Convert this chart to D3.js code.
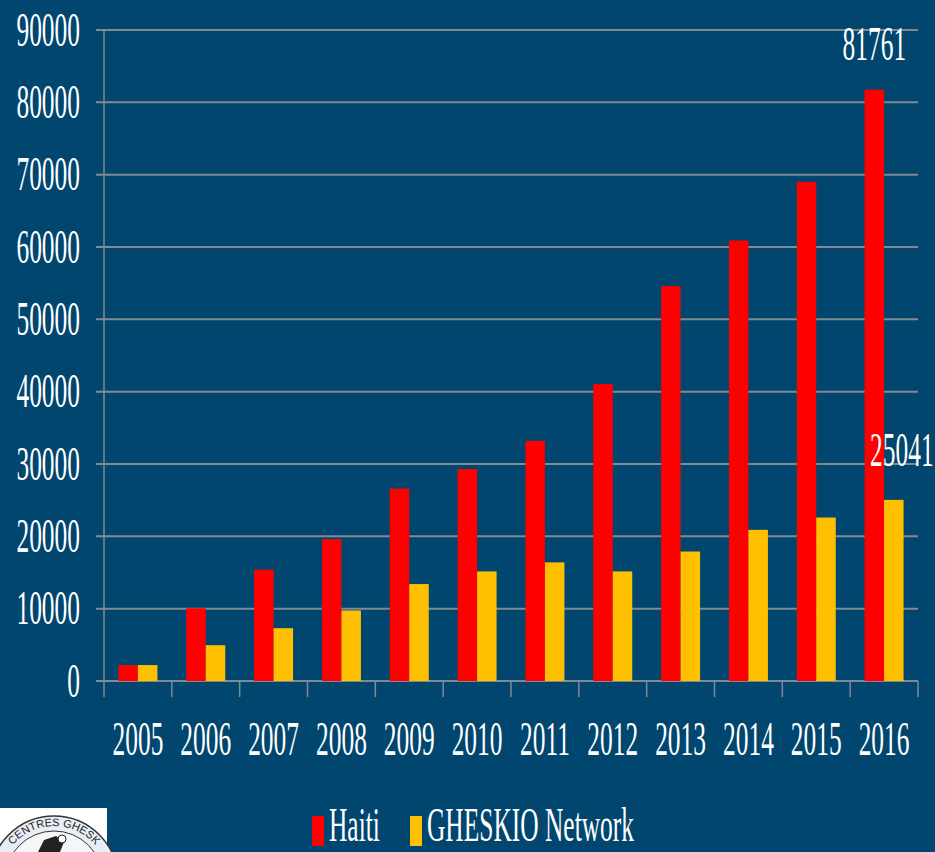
<!DOCTYPE html>
<html>
<head>
<meta charset="utf-8">
<script src="https://cdn.jsdelivr.net/npm/d3@7"></script>
<style>
  html, body { margin: 0; padding: 0; background: #00466f; }
  svg { display: block; }
  text { font-family: "Liberation Serif", "Times New Roman", serif; fill: #ffffff; }
</style>
</head>
<body>
<svg id="chart" width="935" height="852"></svg>
<script>
const years = ['2005', '2006', '2007', '2008', '2009', '2010', '2011', '2012', '2013', '2014', '2015', '2016'];
const haiti = [2200, 10050, 15400, 19600, 26600, 29300, 33200, 41050, 54600, 60900, 69000, 81761];
const gheskio = [2200, 4950, 7300, 9750, 13400, 15150, 16400, 15150, 17900, 20900, 22600, 25041];
const seriesNames = ['Haiti', 'GHESKIO Network'];
const seriesColors = ['#ff0000', '#ffc000'];
const yTicks = [0, 10000, 20000, 30000, 40000, 50000, 60000, 70000, 80000, 90000];

const margin = { top: 30, left: 104, right: 17, bottom: 171 };
const width = 935, height = 852;
const fontSize = 48, squeeze = 0.53; // tall narrow serif look

var svg = d3.select('#chart');

var x = d3.scaleBand()
	.domain(years)
	.range([margin.left, width - margin.right])
	.paddingInner(0).paddingOuter(0);

var xInner = d3.scaleBand()
	.domain(seriesNames)
	.range([0, x.bandwidth()])
	.paddingInner(0).paddingOuter(0.74);

var y = d3.scaleLinear()
	.domain([0, 90000])
	.range([height - margin.bottom, margin.top]);

// squeezed text helper
function label(g, tx, ty, str, anchor) {
	return g.append('text')
		.attr('transform', 'translate(' + [tx, ty] + ') scale(' + squeeze + ',1)')
		.attr('text-anchor', anchor || 'middle')
		.style('font-size', fontSize + 'px')
		.text(str);
}

// gridlines
svg.append('g').selectAll('line')
	.data(yTicks)
	.enter().append('line')
	.attr('x1', margin.left - 8)
	.attr('x2', width - margin.right)
	.attr('y1', function(d) { return y(d) })
	.attr('y2', function(d) { return y(d) })
	.style('stroke', '#7f8a93')
	.style('stroke-width', 2);

// y tick labels
yTicks.forEach(function(d) {
	label(svg, 80, y(d) + 15.5, d, 'end');
});

// y axis line
svg.append('line')
	.attr('x1', margin.left).attr('x2', margin.left)
	.attr('y1', y(90000)).attr('y2', y(0) + 16)
	.style('stroke', '#7f8a93').style('stroke-width', 1.5);

// x ticks at band boundaries
svg.append('g').selectAll('line')
	.data(years)
	.enter().append('line')
	.attr('x1', function(d) { return x(d) + x.step() })
	.attr('x2', function(d) { return x(d) + x.step() })
	.attr('y1', y(0))
	.attr('y2', y(0) + 16)
	.style('stroke', '#7f8a93').style('stroke-width', 1.5);

// bars
var rows = years.map(function(yr, i) {
	return { year: yr, values: [haiti[i], gheskio[i]] };
});

var groups = svg.append('g').selectAll('g')
	.data(rows)
	.enter().append('g')
	.attr('transform', function(d) { return 'translate(' + [x(d.year), 0] + ')' });

groups.selectAll('rect')
	.data(function(d) { return d.values.map(function(v, j) { return { name: seriesNames[j], value: v, color: seriesColors[j] } }) })
	.enter().append('rect')
	.attr('x', function(d) { return xInner(d.name) })
	.attr('width', xInner.bandwidth())
	.attr('y', function(d) { return y(d.value) })
	.attr('height', function(d) { return y(0) - y(d.value) })
	.style('fill', function(d) { return d.color });

// x labels
years.forEach(function(yr) {
	label(svg, x(yr) + x.bandwidth() / 2, 755, yr);
});

// value labels on the last year
var last = years[years.length - 1];
label(svg, x(last) + xInner('Haiti') + xInner.bandwidth() / 2, y(haiti[haiti.length - 1]) - 30, haiti[haiti.length - 1]);
label(svg, x(last) + xInner('GHESKIO Network') + xInner.bandwidth() / 2 + 8, y(gheskio[gheskio.length - 1]) - 34, gheskio[gheskio.length - 1]);

// legend
var legend = svg.append('g');
var legendX = [312, 410];
seriesNames.forEach(function(name, i) {
	legend.append('rect')
		.attr('x', legendX[i]).attr('y', 816)
		.attr('width', 12).attr('height', 30)
		.style('fill', seriesColors[i]);
	label(legend, legendX[i] + 17, 841, name, 'start');
});

// logo stub (bottom-left)
var logo = svg.append('g');
logo.append('rect')
	.attr('x', 0).attr('y', 808).attr('width', 107).attr('height', 44)
	.style('fill', '#ffffff');
logo.append('circle')
	.attr('cx', 54).attr('cy', 880).attr('r', 64)
	.style('fill', '#e8eef5').style('stroke', '#333').style('stroke-width', 1.5);
logo.append('circle')
	.attr('cx', 54).attr('cy', 880).attr('r', 49)
	.style('fill', '#f4f6f8').style('stroke', '#333').style('stroke-width', 1);
logo.append('path')
	.attr('id', 'logoArc')
	.attr('d', 'M 0 880 A 54 54 0 0 1 108 880')
	.style('fill', 'none');
logo.append('text')
	.attr('text-anchor', 'middle')
	.style('font-family', 'Liberation Sans, Arial, sans-serif')
	.style('font-size', '11px')
	.style('fill', '#222')
	.append('textPath')
	.attr('href', '#logoArc')
	.attr('startOffset', '50%')
	.text('CENTRES GHESK');
logo.append('path')
	.attr('d', 'M 38 852 L 44 840 L 56 836 L 64 842 L 60 852 Z')
	.style('fill', '#222');
logo.append('circle')
	.attr('cx', 62).attr('cy', 839).attr('r', 4)
	.style('fill', '#fff').style('stroke', '#222');
</script>
</body>
</html>
